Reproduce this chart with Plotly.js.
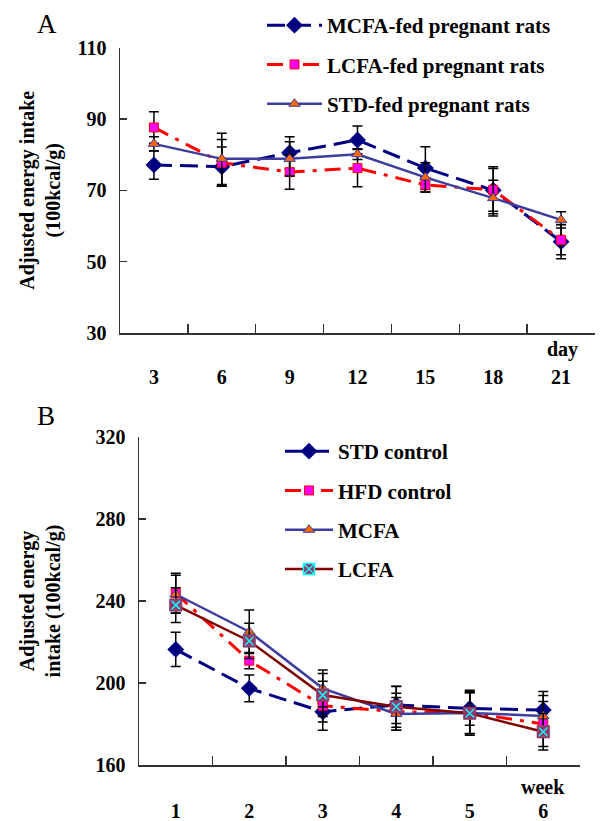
<!DOCTYPE html>
<html>
<head>
<meta charset="utf-8">
<script src="https://cdn.plot.ly/plotly-3.0.1.min.js"></script>
<style>html,body{margin:0;padding:0;background:#fff;}#chart{width:604px;height:821px;}</style>
</head>
<body>
<div id="chart"></div>
<script>
// ---------- Panel A data ----------
const daysA = ["3", "6", "9", "12", "15", "18", "21"];
const mcfaPregnant = [77.1, 76.6, 80.5, 84.1, 76.2, 70.0, 55.6];
const mcfaPregnantErr = [4.0, 5.5, 4.5, 3.9, 6.0, 6.6, 4.8];
const lcfaPregnant = [87.6, 77.7, 75.1, 76.2, 71.5, 70.1, 56.1];
const lcfaPregnantErr = [4.4, 6.5, 4.8, 5.2, 2.0, 6.0, 4.2];
const stdPregnant = [83.0, 78.8, 78.8, 80.1, 73.6, 67.8, 61.7];
const stdPregnantErr = [2.0, 7.2, 4.8, 1.5, 4.1, 5.0, 2.3];
const yTicksA = [30, 50, 70, 90, 110];

// ---------- Panel B data ----------
const weeksB = ["1", "2", "3", "4", "5", "6"];
const stdControl = [216.4, 197.4, 186.0, 189.3, 187.6, 186.8];
const stdControlErr = [8.3, 6.5, 5.0, 9.0, 8.2, 9.0];
const hfdControl = [243.8, 210.9, 188.9, 186.0, 185.5, 180.0];
const hfdControlErr = [9.7, 4.0, 12.0, 9.0, 11.0, 11.0];
const mcfaB = [243.3, 225.0, 197.4, 184.9, 185.4, 183.9];
const mcfaBErr = [9.3, 10.6, 9.0, 8.0, 10.0, 10.0];
const lcfaB = [238.0, 220.5, 194.1, 188.4, 185.2, 176.2];
const lcfaBErr = [8.5, 8.6, 10.5, 10.0, 10.0, 8.9];
const yTicksB = [160, 200, 240, 280, 320];

const FONT = "'Liberation Serif', 'Times New Roman', serif";
const NAVY = "#000080", RED = "#FF0000", SLATE = "#3D3D9E", DARKRED = "#800000", MAUVE = "#993366";

function err(arr) {
  return {type: "data", array: arr, visible: true, color: "#000000", thickness: 1.5, width: 5};
}

const traces = [
  // Panel A
  {x: daysA, y: mcfaPregnant, error_y: err(mcfaPregnantErr), name: "MCFA-fed pregnant rats",
   xaxis: "x", yaxis: "y", mode: "lines+markers", legend: "legend", legendgroup: "a1",
   line: {color: NAVY, width: 3, dash: "18px,8px"},
   marker: {symbol: "diamond", size: 13, color: NAVY}},
  {x: daysA, y: lcfaPregnant, error_y: err(lcfaPregnantErr), name: "LCFA-fed pregnant rats",
   xaxis: "x", yaxis: "y", mode: "lines+markers", legend: "legend", legendgroup: "a2",
   line: {color: RED, width: 3, dash: "16px,8px,4px,8px"},
   marker: {symbol: "square", size: 9, color: "#FF00FF", line: {color: RED, width: 1}}},
  {x: daysA, y: stdPregnant, error_y: err(stdPregnantErr), name: "STD-fed pregnant rats",
   xaxis: "x", yaxis: "y", mode: "lines+markers", legend: "legend", legendgroup: "a3",
   line: {color: SLATE, width: 2.5},
   marker: {symbol: "triangle-up", size: 10, color: "#FF6600", line: {color: SLATE, width: 1}}},
  // Panel B
  {x: weeksB, y: stdControl, error_y: err(stdControlErr), name: "STD control",
   xaxis: "x2", yaxis: "y2", mode: "lines+markers", legend: "legend2", legendgroup: "b1",
   line: {color: NAVY, width: 3, dash: "18px,8px"},
   marker: {symbol: "diamond", size: 13, color: NAVY}},
  {x: weeksB, y: hfdControl, error_y: err(hfdControlErr), name: "HFD control",
   xaxis: "x2", yaxis: "y2", mode: "lines+markers", legend: "legend2", legendgroup: "b2",
   line: {color: RED, width: 3, dash: "16px,8px,4px,8px"},
   marker: {symbol: "square", size: 9, color: "#FF00FF", line: {color: RED, width: 1}}},
  {x: weeksB, y: mcfaB, error_y: err(mcfaBErr), name: "MCFA",
   xaxis: "x2", yaxis: "y2", mode: "lines+markers", legend: "legend2", legendgroup: "b3",
   line: {color: SLATE, width: 2.5},
   marker: {symbol: "triangle-up", size: 10, color: "#FF6600", line: {color: SLATE, width: 1}}},
  {x: weeksB, y: lcfaB, error_y: err(lcfaBErr), name: "LCFA",
   xaxis: "x2", yaxis: "y2", mode: "lines+markers", legend: "legend2", legendgroup: "b4",
   line: {color: DARKRED, width: 2.5},
   marker: {symbol: "square-x", size: 11, color: MAUVE, line: {color: "#00FFFF", width: 1.5}}},
  // mauve outline over the LCFA markers (same data)
  {x: weeksB, y: lcfaB, name: "LCFA", showlegend: false, hoverinfo: "skip",
   xaxis: "x2", yaxis: "y2", mode: "markers", legend: "legend2", legendgroup: "b4",
   marker: {symbol: "square-open", size: 11, color: MAUVE, line: {color: MAUVE, width: 2}}}
];

const tickFont = {family: FONT, size: 20, color: "#000", weight: "bold"};

function xAxis(domain, anchor, standoff) {
  return {domain: domain, anchor: anchor, type: "category", tickson: "boundaries",
    ticks: "inside", ticklen: 9, tickwidth: 1.5, tickcolor: "#333",
    showline: true, linecolor: "#333", linewidth: 1.5, showgrid: false, zeroline: false,
    tickfont: tickFont, ticklabelstandoff: standoff, fixedrange: true};
}
function yAxis(domain, anchor, range, vals, title, standoff) {
  return {domain: domain, anchor: anchor, range: range, tickvals: vals,
    ticks: "inside", ticklen: 7, tickwidth: 1.5, tickcolor: "#333",
    showline: true, linecolor: "#333", linewidth: 1.5, showgrid: false, zeroline: false,
    tickfont: tickFont, ticklabelstandoff: 8,
    title: {text: title, font: {family: FONT, size: 20, color: "#000", weight: "bold"}, standoff: standoff}};
}

const W = 604, H = 821;
const layout = {
  width: W, height: H,
  margin: {l: 0, r: 0, t: 0, b: 0},
  paper_bgcolor: "#fff", plot_bgcolor: "#fff",
  font: {family: FONT, size: 20, color: "#000", weight: "bold"},
  xaxis: Object.assign(xAxis([120 / W, 595 / W], "y", 25), {range: [-0.5, 6.5]}),
  yaxis: yAxis([1 - 333 / H, 1 - 47.5 / H], "x", [30, 110], yTicksA,
               "Adjusted energy intake<br>(100kcal/g)", 11),
  xaxis2: Object.assign(xAxis([139 / W, 580 / W], "y2", 27), {range: [-0.5, 5.5]}),
  yaxis2: yAxis([1 - 765 / H, 1 - 437 / H], "x2", [160, 320], yTicksB,
                "Adjusted energy<br>intake (100kcal/g)", 29),
  showlegend: true,
  legend: {x: 262 / W, y: 1 - 5 / H, xanchor: "left", yanchor: "top", bgcolor: "rgba(0,0,0,0)",
           font: {family: FONT, size: 21, color: "#000", weight: "bold"},
           itemwidth: 55, tracegroupgap: 9, traceorder: "grouped", itemclick: false, itemdoubleclick: false},
  legend2: {x: 280 / W, y: 1 - 431 / H, xanchor: "left", yanchor: "top", bgcolor: "rgba(0,0,0,0)",
            font: {family: FONT, size: 21, color: "#000", weight: "bold"},
            itemwidth: 48, tracegroupgap: 9, traceorder: "grouped", itemclick: false, itemdoubleclick: false},
  annotations: [
    {text: "A", xref: "paper", yref: "paper", x: 47 / W, y: 1 - 24 / H, showarrow: false,
     xanchor: "center", yanchor: "middle", font: {family: FONT, size: 27, color: "#000", weight: "normal"}},
    {text: "B", xref: "paper", yref: "paper", x: 46 / W, y: 1 - 416 / H, showarrow: false,
     xanchor: "center", yanchor: "middle", font: {family: FONT, size: 27, color: "#000", weight: "normal"}},
    {text: "day", xref: "paper", yref: "paper", x: 562 / W, y: 1 - 350 / H, showarrow: false,
     xanchor: "center", yanchor: "middle", font: {family: FONT, size: 20, color: "#000", weight: "bold"}},
    {text: "week", xref: "paper", yref: "paper", x: 543 / W, y: 1 - 787 / H, showarrow: false,
     xanchor: "center", yanchor: "middle", font: {family: FONT, size: 20, color: "#000", weight: "bold"}}
  ]
};

Plotly.newPlot("chart", traces, layout, {displayModeBar: false, staticPlot: true});
</script>
</body>
</html>
